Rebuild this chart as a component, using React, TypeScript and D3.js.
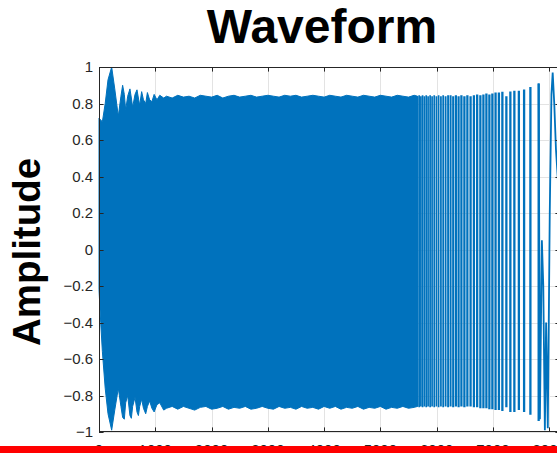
import React from "react";
import * as d3 from "d3";

// ---------- data ----------
const xTicks = [0, 1000, 2000, 3000, 4000, 5000, 6000, 7000, 8000];
const yTicks = [-1, -0.8, -0.6, -0.4, -0.2, 0, 0.2, 0.4, 0.6, 0.8, 1];
const xDomain = [0, 8192];

// dense part of the waveform: upper / lower envelope
const envSamples = [0, 30, 60, 110, 160, 225, 280, 343, 390, 420, 450, 474, 510, 550, 575, 598, 640, 675, 700, 723, 758, 790, 830, 860, 900, 940, 980, 1030, 1080, 1150,
  1200, 1300, 1400, 1500, 1600, 1700, 1800, 1900, 2000, 2100, 2200, 2300, 2400, 2500, 2600, 2700, 2800, 2900, 3000, 3100, 3200, 3300, 3400, 3500, 3600, 3700, 3800, 3900,
  4000, 4100, 4200, 4300, 4400, 4500, 4600, 4700, 4800, 4900, 5000, 5100, 5200, 5300, 5400, 5500, 5600, 5660];
const envUpper = [0.72, 0.71, 0.70, 0.80, 0.93, 1.0, 0.88, 0.73, 0.84, 0.90, 0.85, 0.765, 0.84, 0.88, 0.83, 0.78, 0.85, 0.875, 0.83, 0.79, 0.865, 0.82, 0.80, 0.86, 0.82, 0.81, 0.85, 0.82, 0.845, 0.83,
  0.84, 0.83, 0.845, 0.835, 0.84, 0.83, 0.845, 0.84, 0.835, 0.845, 0.83, 0.84, 0.845, 0.835, 0.84, 0.845, 0.835, 0.84, 0.845, 0.84, 0.835, 0.845, 0.84, 0.845, 0.835, 0.84, 0.845, 0.84,
  0.835, 0.845, 0.84, 0.835, 0.845, 0.84, 0.835, 0.845, 0.84, 0.835, 0.845, 0.84, 0.835, 0.845, 0.84, 0.835, 0.845, 0.84];
const envLower = [-0.22, -0.40, -0.56, -0.76, -0.90, -0.99, -0.88, -0.76, -0.86, -0.92, -0.93, -0.84, -0.80, -0.91, -0.925, -0.86, -0.81, -0.89, -0.91, -0.86, -0.82, -0.87, -0.90, -0.86, -0.83, -0.87, -0.89, -0.85, -0.84, -0.88,
  -0.87, -0.86, -0.875, -0.86, -0.87, -0.88, -0.865, -0.86, -0.875, -0.87, -0.86, -0.875, -0.865, -0.87, -0.86, -0.875, -0.87, -0.86, -0.87, -0.875, -0.86, -0.87, -0.865, -0.875, -0.86, -0.87, -0.865, -0.875,
  -0.86, -0.87, -0.86, -0.875, -0.865, -0.87, -0.86, -0.875, -0.865, -0.87, -0.86, -0.875, -0.865, -0.87, -0.86, -0.87, -0.865, -0.86];

// sparse part: individual visible strokes
const strokeSamples = [5662, 5690, 5720, 5750, 5782, 5815, 5848, 5884, 5919, 5957, 5996, 6035, 6076, 6116, 6159, 6204, 6248, 6294, 6342, 6390, 6440, 6493, 6546,
  6603, 6662, 6720, 6777, 6831, 6884, 6937, 6990, 7047, 7106, 7168, 7239, 7310, 7381, 7461, 7554, 7666, 7813];
const strokeTops = [0.84, 0.845, 0.84, 0.845, 0.84, 0.845, 0.84, 0.845, 0.84, 0.845, 0.84, 0.845, 0.84, 0.845, 0.84, 0.845, 0.845, 0.84, 0.845, 0.84, 0.845, 0.84, 0.845,
  0.84, 0.845, 0.85, 0.845, 0.85, 0.855, 0.85, 0.855, 0.86, 0.86, 0.865, 0.84, 0.866, 0.87, 0.87, 0.877, 0.89, 0.91];
const strokeBottoms = [-0.86, -0.865, -0.86, -0.865, -0.86, -0.865, -0.86, -0.865, -0.86, -0.865, -0.86, -0.865, -0.86, -0.865, -0.86, -0.865, -0.86, -0.865, -0.86, -0.865, -0.86, -0.865, -0.86,
  -0.86, -0.865, -0.865, -0.87, -0.87, -0.87, -0.875, -0.875, -0.88, -0.88, -0.885, -0.864, -0.89, -0.89, -0.88, -0.89, -0.905, -0.94];

// slow oscillation at the end
const tailSamples = [7813, 7835, 7870, 7895, 7923, 7945, 7975, 8010, 8040, 8062, 8090, 8120, 8192];
const tailValues = [0.91, -0.93, 0.05, -0.2, -0.99, -0.4, -0.98, 0.2, 0.85, 0.97, 0.8, 0.55, 0.2];

// ---------- layout ----------
const W = 557;
const H = 453;
const L = 99, R = 560, T = 67, B = 432;
const BLUE = "#0072BD";
const AX = "#262626";
const FONT = "'Liberation Sans', Arial, Helvetica, sans-serif";

const fmt = (v: number) => {
  const s = Math.abs(v) < 1e-9 ? "0" : String(Math.round(v * 10) / 10);
  return s.replace("-", "\u2212");
};

export default function App() {
  const x = d3.scaleLinear().domain(xDomain).range([L, R]);
  const y = d3.scaleLinear().domain([-1, 1]).range([B, T]);

  const envData = envSamples.map((s, i) => ({ s, u: envUpper[i], l: envLower[i] }));
  const area = d3
    .area<{ s: number; u: number; l: number }>()
    .x((d) => x(d.s))
    .y0((d) => y(d.l))
    .y1((d) => y(d.u));

  const strokes = strokeSamples.map((s, i) => {
    const prev = i > 0 ? x(strokeSamples[i - 1]) : x(s) - 2;
    const next = i < strokeSamples.length - 1 ? x(strokeSamples[i + 1]) : x(s) + 8;
    const gap = Math.min(x(s) - prev, next - x(s));
    const w = Math.max(1.7, Math.min(2.3, gap - 0.5));
    return { px: x(s), top: y(strokeTops[i]), bot: y(strokeBottoms[i]), w };
  });

  const tailLine = d3
    .line<number>()
    .x((_, i) => x(tailSamples[i]))
    .y((v) => y(v));

  const tick = 4.6;

  return (
    <svg
      width={W}
      height={H}
      style={{ position: "fixed", left: 0, top: 0, background: "#fff" }}
      fontFamily={FONT}
    >
      <rect x={0} y={0} width={W} height={H} fill="#fff" />
      {/* grid */}
      <g stroke="#e3e3e3" strokeWidth={1}>
        {xTicks.map((t) => (
          <line key={"gx" + t} x1={Math.round(x(t)) + 0.5} x2={Math.round(x(t)) + 0.5} y1={T} y2={B} />
        ))}
        {yTicks.map((t) => (
          <line key={"gy" + t} x1={L} x2={R} y1={Math.round(y(t)) + 0.5} y2={Math.round(y(t)) + 0.5} />
        ))}
      </g>
      {/* waveform */}
      <path d={area(envData) || ""} fill={BLUE} stroke={BLUE} strokeWidth={1} />
      <g stroke={BLUE} fill="none">
        {strokes.map((d, i) => (
          <line key={"st" + i} x1={d.px} x2={d.px} y1={d.bot} y2={d.top} strokeWidth={d.w} />
        ))}
      </g>
      <path d={tailLine(tailValues) || ""} stroke={BLUE} strokeWidth={1.8} fill="none" />
      {/* axes box */}
      <g stroke={AX} strokeWidth={1} fill="none">
        <rect x={L + 0.5} y={T + 0.5} width={R - L - 1} height={B - T - 1} />
        {xTicks.map((t) => (
          <g key={"tx" + t}>
            <line x1={Math.round(x(t)) + 0.5} x2={Math.round(x(t)) + 0.5} y1={B} y2={B - tick} />
            <line x1={Math.round(x(t)) + 0.5} x2={Math.round(x(t)) + 0.5} y1={T} y2={T + tick} />
          </g>
        ))}
        {yTicks.map((t) => (
          <g key={"ty" + t}>
            <line x1={L} x2={L + tick} y1={Math.round(y(t)) + 0.5} y2={Math.round(y(t)) + 0.5} />
            <line x1={R} x2={R - tick} y1={Math.round(y(t)) + 0.5} y2={Math.round(y(t)) + 0.5} />
          </g>
        ))}
      </g>
      {/* tick labels */}
      <g fill={AX} fontSize={15}>
        {yTicks.map((t) => (
          <text key={"ly" + t} x={L - 6} y={y(t) + 5} textAnchor="end">
            {fmt(t)}
          </text>
        ))}
        {xTicks.map((t) => (
          <text key={"lx" + t} x={x(t)} y={455} textAnchor="middle">
            {String(t)}
          </text>
        ))}
      </g>
      {/* title and label */}
      <text x={322} y={43} textAnchor="middle" fontSize={48} fontWeight="bold" fill="#000">
        Waveform
      </text>
      <text
        transform={`translate(40,252) rotate(-90)`}
        textAnchor="middle"
        fontSize={38.5}
        fontWeight="bold"
        fill="#000"
      >
        Amplitude
      </text>
      {/* red strip at the bottom */}
      <rect x={0} y={446} width={W} height={H - 446} fill="#ff0000" />
    </svg>
  );
}
